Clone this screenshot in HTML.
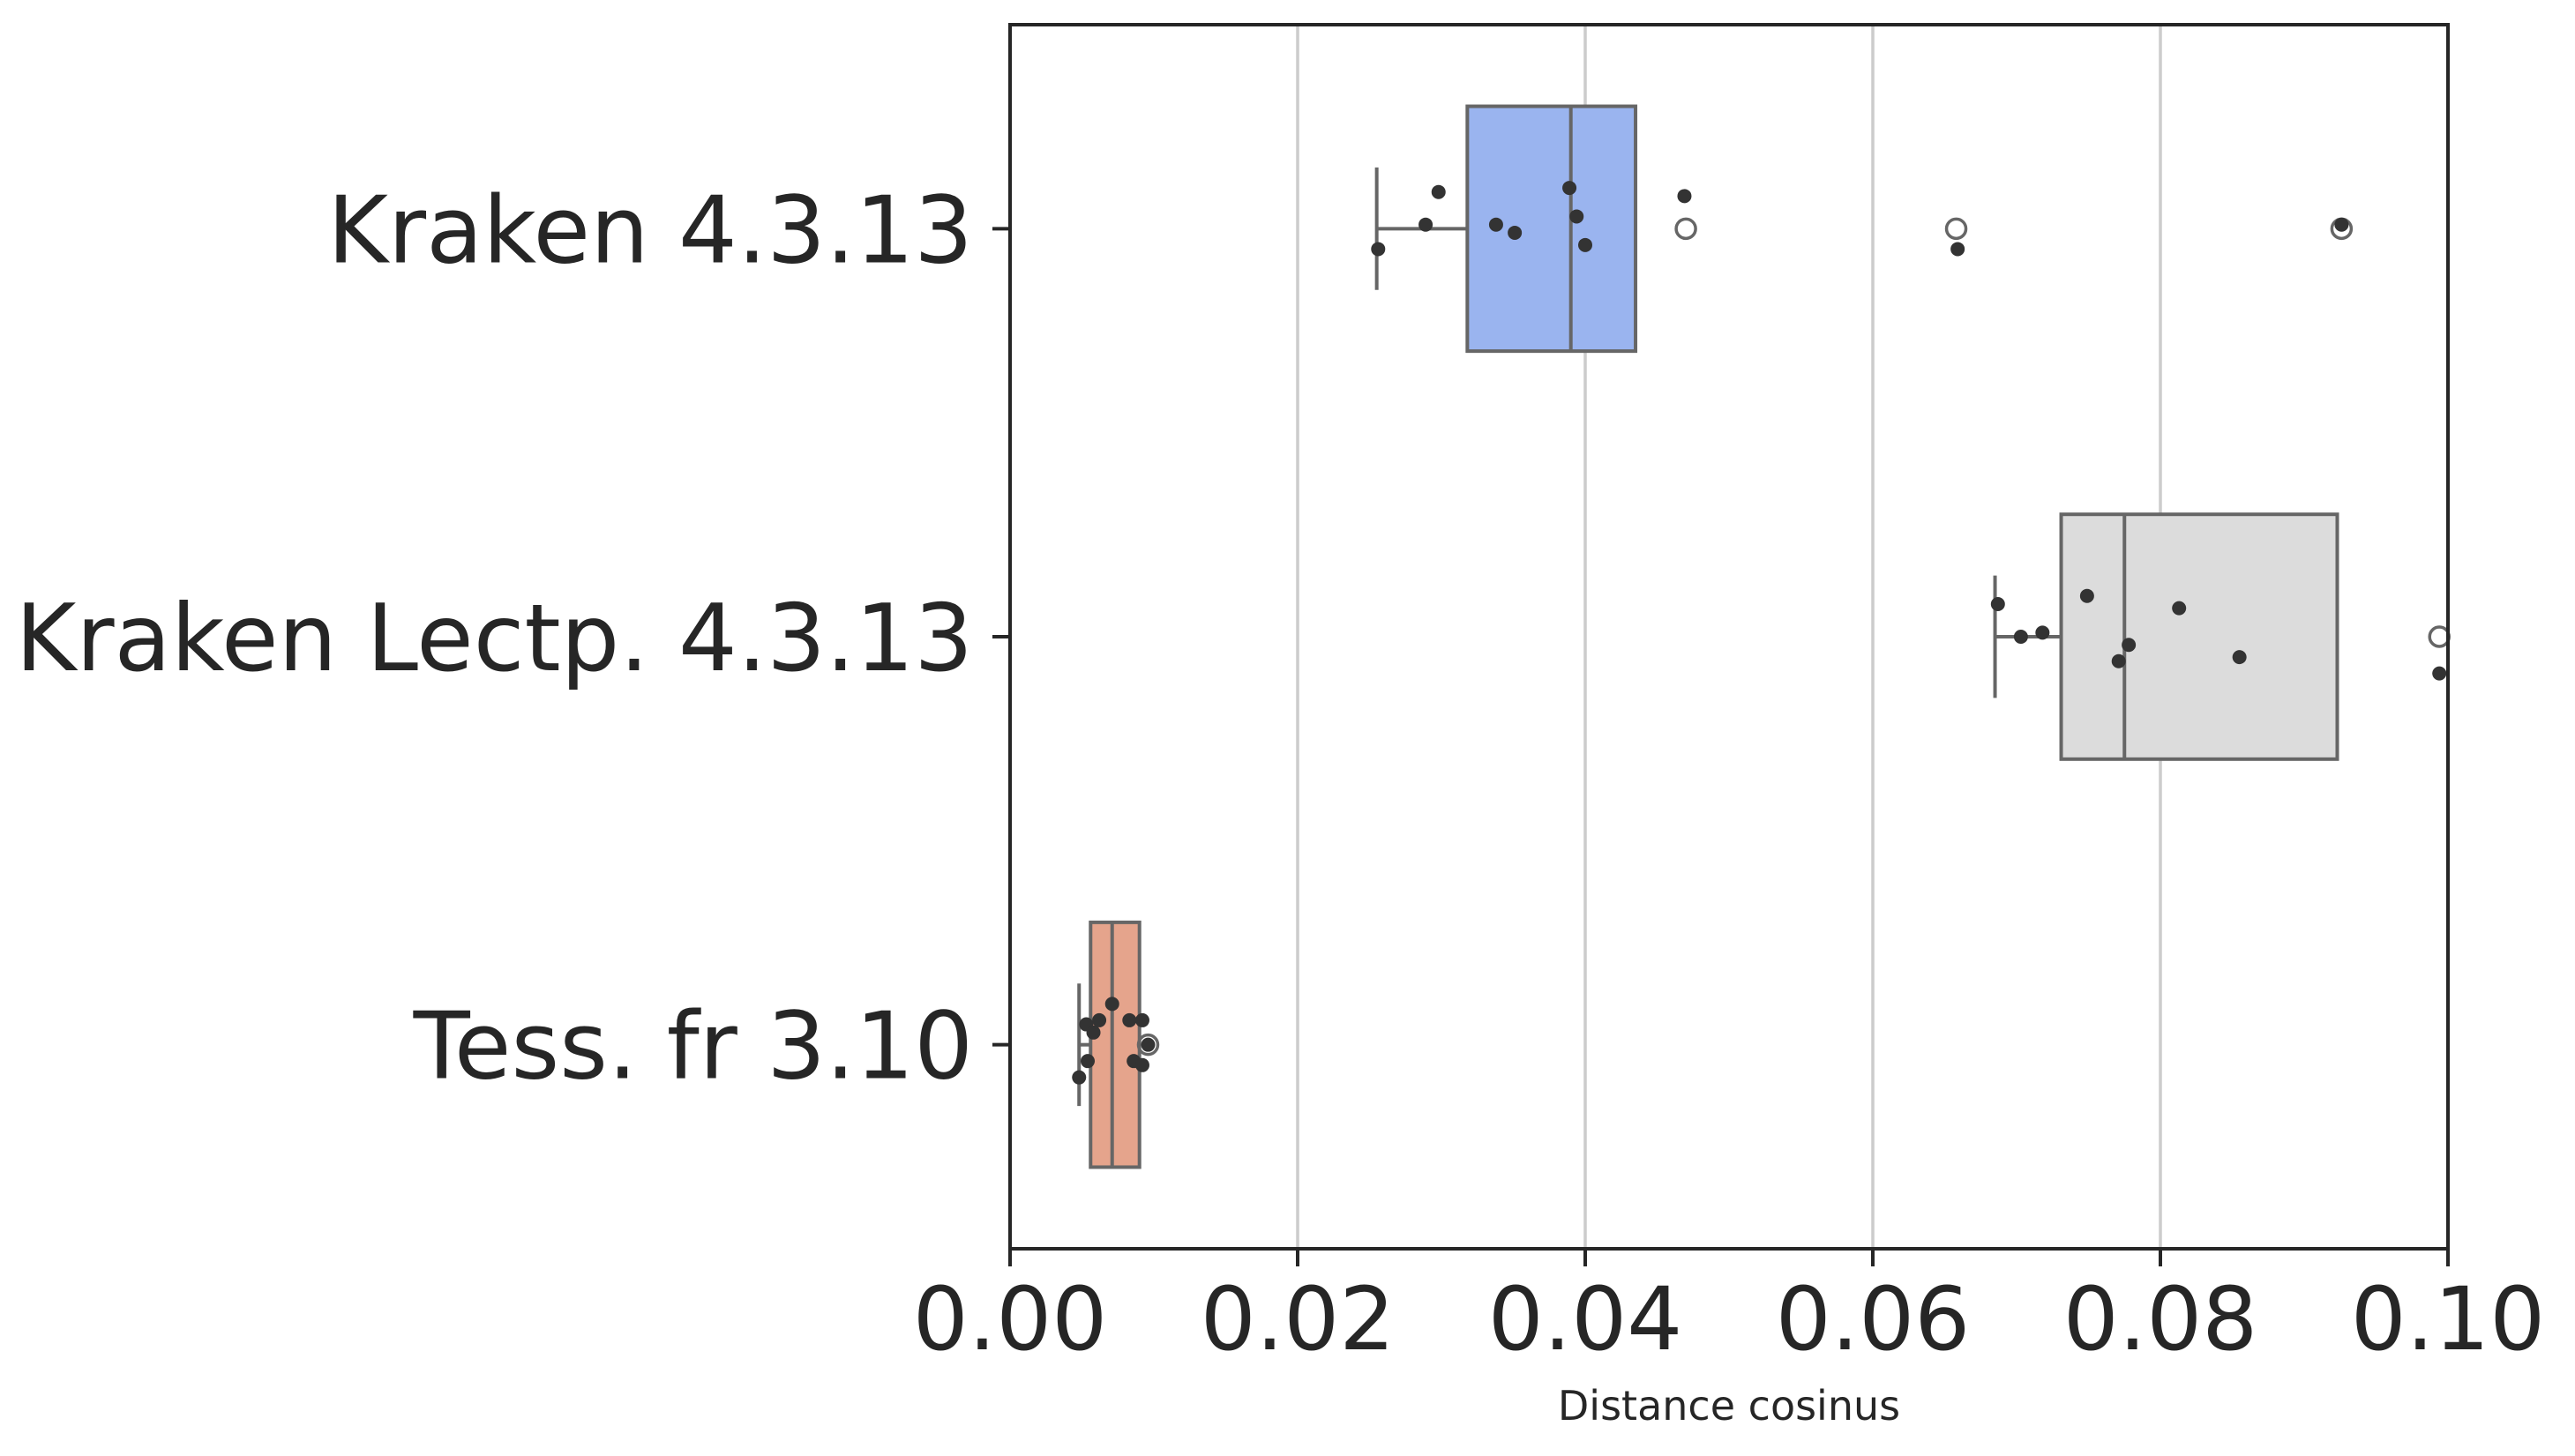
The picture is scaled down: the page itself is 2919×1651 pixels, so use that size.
<!DOCTYPE html>
<html><head><meta charset="utf-8"><style>
html,body{margin:0;padding:0;background:#fff}
svg{display:block;font-family:"DejaVu Sans","Liberation Sans",sans-serif}
</style></head><body>
<svg id="chart" width="2919" height="1651" viewBox="0 0 2919 1651"></svg>
<script>
const categories = ["Kraken 4.3.13", "Kraken Lectp. 4.3.13", "Tess. fr 3.10"];
const boxWhiskerLo = [0.0255, 0.0685, 0.0048];
const boxQ1 = [0.0318, 0.0731, 0.0056];
const boxMedian = [0.0390, 0.0775, 0.0071];
const boxQ3 = [0.0435, 0.0923, 0.0090];
const boxWhiskerHi = [0.0435, 0.0923, 0.0090];
const outliers = [[0.0470, 0.0658, 0.0926], [0.0994], [0.0096]];
const pointsX = [
  [0.0256, 0.0289, 0.0298, 0.0338, 0.0351, 0.0389, 0.0394, 0.0400, 0.0469, 0.0659, 0.0926],
  [0.0687, 0.0703, 0.0718, 0.0749, 0.0771, 0.0778, 0.0813, 0.0855, 0.0994],
  [0.0048, 0.0054, 0.0053, 0.0058, 0.0062, 0.0071, 0.0083, 0.0092, 0.0086, 0.0092, 0.0096]
];
const pointsJitter = [
  [0.05, -0.01, -0.09, -0.01, 0.01, -0.10, -0.03, 0.04, -0.08, 0.05, -0.01],
  [-0.08, 0.00, -0.01, -0.10, 0.06, 0.02, -0.07, 0.05, 0.09],
  [0.08, 0.04, -0.05, -0.03, -0.06, -0.10, -0.06, -0.06, 0.04, 0.05, 0.00]
];
const xTicks = [0, 0.02, 0.04, 0.06, 0.08, 0.10];
const xTickLabels = ["0.00", "0.02", "0.04", "0.06", "0.08", "0.10"];
const colors = ["#9ab4ef", "#dcdcdc", "#e5a48c"];

const L = 1145, R = 2775, T = 28, B = 1416;
const xMin = 0, xMax = 0.1;
const x = v => L + (v - xMin) / (xMax - xMin) * (R - L);
const bandH = (B - T) / 3;
const y = (i, off) => T + bandH * (i + 0.5) + (off || 0) * bandH;
const boxH = bandH * 0.6;
const NS = "http://www.w3.org/2000/svg";
const svg = document.getElementById("chart");
function mk(tag, attrs, parent) {
  const e = document.createElementNS(NS, tag);
  for (const k in attrs) e.setAttribute(k, attrs[k]);
  (parent || svg).appendChild(e);
  return e;
}
xTicks.forEach((t, i) => {
  if (i === 0 || i === xTicks.length - 1) return;
  const g = mk("line", {x1: x(t), x2: x(t), y1: T, y2: B, stroke: "#cccccc", "stroke-width": 3.5});
  
  
});
categories.forEach((c, i) => {
  const grp = mk("g", {});
  
  
  const cy = y(i);
  mk("line", {x1: x(boxWhiskerLo[i]), x2: x(boxQ1[i]), y1: cy, y2: cy, stroke: "#666", "stroke-width": 4}, grp);
  mk("line", {x1: x(boxWhiskerLo[i]), x2: x(boxWhiskerLo[i]), y1: cy - boxH * 0.25, y2: cy + boxH * 0.25, stroke: "#666", "stroke-width": 4}, grp);
  mk("line", {x1: x(boxQ3[i]), x2: x(boxWhiskerHi[i]), y1: cy, y2: cy, stroke: "#666", "stroke-width": 4}, grp);
  mk("rect", {x: x(boxQ1[i]), y: cy - boxH / 2, width: x(boxQ3[i]) - x(boxQ1[i]), height: boxH, fill: colors[i], stroke: "#666", "stroke-width": 4}, grp);
  mk("line", {x1: x(boxMedian[i]), x2: x(boxMedian[i]), y1: cy - boxH / 2, y2: cy + boxH / 2, stroke: "#666", "stroke-width": 4}, grp);
  outliers[i].forEach(o => {
    const e = mk("circle", {cx: x(o), cy: cy, r: 11, fill: "none", stroke: "#666", "stroke-width": 3.5}, grp);
    
    
  });
  pointsX[i].forEach((p, j) => {
    const e = mk("circle", {cx: x(p), cy: y(i, pointsJitter[i][j]), r: 8, fill: "#333"}, grp);
    
    
  });
  const yl = mk("line", {x1: L - 20, x2: L, y1: cy, y2: cy, stroke: "#262626", "stroke-width": 4});
  
  
  const tx = mk("text", {x: L - 42, y: cy + 38, "text-anchor": "end", "font-size": 105, fill: "#262626"});
  tx.textContent = c;
  
  
});
const fr = mk("rect", {x: L, y: T, width: R - L, height: B - T, fill: "none", stroke: "#262626", "stroke-width": 4});


xTicks.forEach((t, i) => {
  const tl = mk("line", {x1: x(t), x2: x(t), y1: B, y2: B + 20, stroke: "#262626", "stroke-width": 4});
  
  
  const tx = mk("text", {x: x(t), y: B + 114, "text-anchor": "middle", "font-size": 99, fill: "#262626"});
  tx.textContent = xTickLabels[i];
  
  
});
const xt = mk("text", {x: (L + R) / 2, y: 1610, "text-anchor": "middle", "font-size": 46, fill: "#262626"});
xt.textContent = "Distance cosinus";


</script>
</body></html>
